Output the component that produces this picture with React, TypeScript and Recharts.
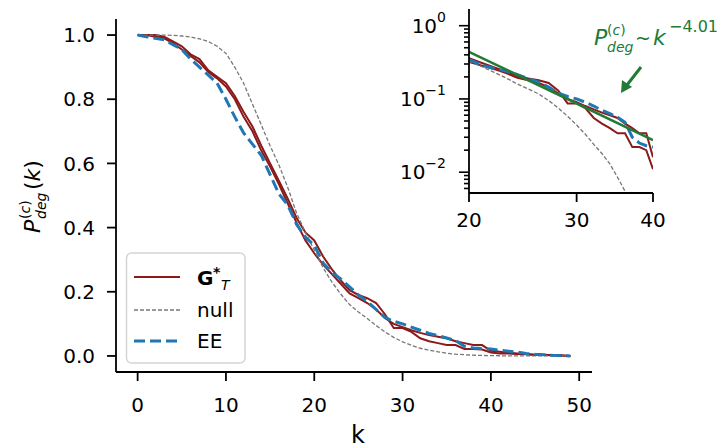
import React from 'react';
import { LineChart, Line, XAxis, YAxis } from 'recharts';

// degree k and complementary degree distributions
const degrees = [
  0, 1, 2, 3, 4, 5, 6, 7, 8, 9, 10, 11, 12, 13, 14, 15, 16, 17, 18, 19, 20, 21, 22, 23, 24,
  25, 26, 27, 28, 29, 30, 31, 32, 33, 34, 35, 36, 37, 38, 39, 40, 41, 42, 43, 44, 45, 46, 47, 48, 49,
];
const gtA = [
  1.0, 1.0, 1.0, 0.995, 0.98, 0.965, 0.94, 0.925, 0.89, 0.87, 0.85, 0.81, 0.76, 0.715, 0.655,
  0.6, 0.545, 0.49, 0.43, 0.385, 0.36, 0.31, 0.27, 0.235, 0.205, 0.19, 0.18, 0.165, 0.13, 0.087,
  0.087, 0.075, 0.055, 0.046, 0.04, 0.034, 0.034, 0.022, 0.022, 0.02, 0.011, 0.008, 0.008, 0.006,
  0.005, 0.003, 0.003, 0.002, 0.001, 0,
];
const gtB = [
  1.0, 1.0, 0.995, 0.99, 0.975, 0.955, 0.935, 0.915, 0.885, 0.865, 0.84, 0.8, 0.745, 0.7, 0.64,
  0.59, 0.535, 0.475, 0.415, 0.36, 0.32, 0.285, 0.255, 0.225, 0.195, 0.18, 0.165, 0.145, 0.118,
  0.1, 0.09, 0.08, 0.072, 0.065, 0.06, 0.055, 0.046, 0.04, 0.034, 0.034, 0.016, 0.013, 0.01,
  0.008, 0.006, 0.004, 0.004, 0.002, 0.002, 0,
];
const eeValues = [
  1.0, 0.995, 0.99, 0.985, 0.97, 0.955, 0.925, 0.9, 0.875, 0.85, 0.8, 0.745, 0.695, 0.66, 0.625,
  0.565, 0.505, 0.47, 0.41, 0.37, 0.345, 0.29, 0.26, 0.24, 0.215, 0.19, 0.17, 0.145, 0.12, 0.108,
  0.1, 0.09, 0.08, 0.07, 0.063, 0.056, 0.048, 0.03, 0.025, 0.023, 0.022, 0.018, 0.015, 0.012,
  0.008, 0.005, 0.004, 0.002, 0.001, 0,
];
const nullValues = [
  1, 1, 1, 1, 0.999, 0.997, 0.994, 0.988, 0.98, 0.965, 0.943, 0.9, 0.85, 0.785, 0.72, 0.655,
  0.595, 0.525, 0.445, 0.385, 0.33, 0.275, 0.23, 0.193, 0.16, 0.137, 0.117, 0.095, 0.075, 0.058,
  0.044, 0.033, 0.024, 0.018, 0.013, 0.0085, 0.0055, 0.0038, 0.0025, 0.0016, 0.001, 0.0006,
  0.0004, 0.0002, 0.0001, 0.0001, 0, 0, 0, 0,
];
// power-law fit shown in the inset
const fitK = [20, 40];
const fitValues = [0.44, 0.0275];

const mainTicksX = [0, 10, 20, 30, 40, 50];
const mainTicksY = [0, 0.2, 0.4, 0.6, 0.8, 1.0];
const insetTicksX = [20, 30, 40];
const insetMajorY = [0.01, 0.1, 1];
const insetMinorY = [
  0.006, 0.007, 0.008, 0.009, 0.02, 0.03, 0.04, 0.05, 0.06, 0.07, 0.08, 0.09,
  0.2, 0.3, 0.4, 0.5, 0.6, 0.7, 0.8, 0.9,
];

const RED = '#8b1a1a';
const BLUE = '#1f77b4';
const GRAY = '#777777';
const GREEN = '#217a36';
const FONT = '"DejaVu Sans", sans-serif';

const rows = degrees.map((k, i) => ({
  k,
  gtA: gtA[i],
  gtB: gtB[i],
  ee: eeValues[i],
  nul: nullValues[i],
}));
const insetRows = rows.filter((r) => r.k >= 20 && r.k <= 40);
const fitRows = fitK.map((k, i) => ({ k, fit: fitValues[i] }));

const tickStyle = { fill: '#000', fontSize: 20, fontFamily: FONT };
const axisStroke = { stroke: '#000', strokeWidth: 1.8 };

function InsetYTick(props: any) {
  const { x, y, payload } = props;
  const v = payload.value;
  const major = insetMajorY.includes(v);
  const exp = Math.round(Math.log10(v));
  return (
    <g>
      <line x1={x} x2={x - (major ? 10 : 5)} y1={y} y2={y} stroke="#000" strokeWidth={1.6} />
      {major && (
        <text x={x - 23} y={y + 7} textAnchor="end" fontSize={20} fontFamily={FONT} fill="#000">
          10
          <tspan dy={-11} fontSize={14}>
            {exp === 0 ? '0' : '\u2212' + Math.abs(exp)}
          </tspan>
        </text>
      )}
    </g>
  );
}

function Overlay() {
  return (
    <svg
      width={726}
      height={448}
      style={{ position: 'absolute', left: 0, top: 0, pointerEvents: 'none' }}
      fontFamily={FONT}
    >
      {/* y label */}
      <g transform="translate(40,194) rotate(-90)">
        <text x={-39} y={0} fontSize={22} fontStyle="italic">P</text>
        <text x={-25} y={-10} fontSize={14}>(<tspan fontStyle="italic">c</tspan>)</text>
        <text x={-25} y={6} fontSize={14} fontStyle="italic">deg</text>
        <text x={4} y={0} fontSize={22}>(<tspan fontStyle="italic">k</tspan>)</text>
      </g>
      {/* x label */}
      <text x={358} y={443} fontSize={24} textAnchor="middle">k</text>

      {/* legend */}
      <rect x={126.5} y={253} width={118.5} height={110} rx={5} fill="#fff" fillOpacity={0.8} stroke="#d5d5d5" strokeWidth={1.5} />
      <line x1={134} x2={180} y1={277} y2={277} stroke={RED} strokeWidth={2} />
      <text x={197} y={285} fontSize={20} fontWeight="bold">G</text>
      <text x={213} y={277} fontSize={14} fontWeight="bold">*</text>
      <text x={221} y={290} fontSize={14} fontStyle="italic">T</text>
      <line x1={134} x2={180} y1={310} y2={310} stroke={GRAY} strokeWidth={1.3} strokeDasharray="4 2" />
      <text x={197} y={317} fontSize={20}>null</text>
      <line x1={134} x2={180} y1={341} y2={341} stroke={BLUE} strokeWidth={3} strokeDasharray="11 5" />
      <text x={197} y={348} fontSize={20}>EE</text>

      {/* fit annotation */}
      <g fill={GREEN}>
        <text x={594} y={45} fontSize={22} fontStyle="italic">P</text>
        <text x={607} y={35} fontSize={14}>(<tspan fontStyle="italic">c</tspan>)</text>
        <text x={607} y={52} fontSize={14} fontStyle="italic">deg</text>
        <text x={635} y={45} fontSize={19}>~</text>
        <text x={653} y={45} fontSize={22} fontStyle="italic">k</text>
        <text x={669} y={32} fontSize={16}>{'\u2212'}4.01</text>
      </g>
      <line x1={641} y1={67} x2={627} y2={85} stroke={GREEN} strokeWidth={3} />
      <polygon points="621,93 622,80 632,87" fill={GREEN} />
    </svg>
  );
}

export default function App() {
  return (
    <div style={{ position: 'absolute', left: 0, top: 0, width: 726, height: 448, background: '#fff' }}>
      <div style={{ position: 'absolute', left: 0, top: 0 }}>
        <LineChart width={726} height={448} data={rows} margin={{ top: 19, right: 134, bottom: 0, left: 0 }}>
          <XAxis
            dataKey="k"
            type="number"
            domain={[-2.45, 51.45]}
            ticks={mainTicksX}
            interval={0}
            allowDataOverflow
            height={76}
            tick={tickStyle}
            tickSize={9}
            tickMargin={17}
            tickLine={axisStroke}
            axisLine={axisStroke}
          />
          <YAxis
            type="number"
            domain={[-0.05, 1.05]}
            ticks={mainTicksY}
            interval={0}
            allowDataOverflow
            width={116}
            tick={tickStyle}
            tickFormatter={(v: number) => v.toFixed(1)}
            tickSize={9}
            tickMargin={12}
            tickLine={axisStroke}
            axisLine={axisStroke}
          />
          <Line dataKey="gtA" stroke={RED} strokeWidth={2} dot={false} type="linear" isAnimationActive={false} />
          <Line dataKey="gtB" stroke={RED} strokeWidth={2} dot={false} type="linear" isAnimationActive={false} />
          <Line dataKey="nul" stroke={GRAY} strokeWidth={1.3} strokeDasharray="4 2" dot={false} type="linear" isAnimationActive={false} />
          <Line dataKey="ee" stroke={BLUE} strokeWidth={3} strokeDasharray="11 5" dot={false} type="linear" isAnimationActive={false} />
        </LineChart>
      </div>

      <div style={{ position: 'absolute', left: 400, top: 0 }}>
        <LineChart width={326} height={240} data={insetRows} margin={{ top: 9, right: 73, bottom: 0, left: 0 }}>
          <XAxis
            dataKey="k"
            type="number"
            scale="log"
            domain={[20, 40]}
            ticks={insetTicksX}
            interval={0}
            allowDataOverflow
            height={47}
            tick={tickStyle}
            tickSize={9}
            tickMargin={11}
            tickLine={axisStroke}
            axisLine={axisStroke}
          />
          <YAxis
            type="number"
            scale="log"
            domain={[0.0052, 1.69]}
            ticks={[...insetMinorY, ...insetMajorY].sort((a, b) => a - b)}
            interval={0}
            allowDataOverflow
            width={69}
            tick={<InsetYTick />}
            tickSize={0}
            tickMargin={0}
            tickLine={false}
            axisLine={axisStroke}
          />
          <Line dataKey="gtA" stroke={RED} strokeWidth={2} dot={false} type="linear" isAnimationActive={false} />
          <Line dataKey="gtB" stroke={RED} strokeWidth={2} dot={false} type="linear" isAnimationActive={false} />
          <Line dataKey="nul" stroke={GRAY} strokeWidth={1.3} strokeDasharray="4 2" dot={false} type="linear" isAnimationActive={false} />
          <Line dataKey="ee" stroke={BLUE} strokeWidth={3} strokeDasharray="11 5" dot={false} type="linear" isAnimationActive={false} />
          <Line data={fitRows} dataKey="fit" stroke={GREEN} strokeWidth={2.5} dot={false} type="linear" isAnimationActive={false} />
        </LineChart>
      </div>

      <Overlay />
    </div>
  );
}
